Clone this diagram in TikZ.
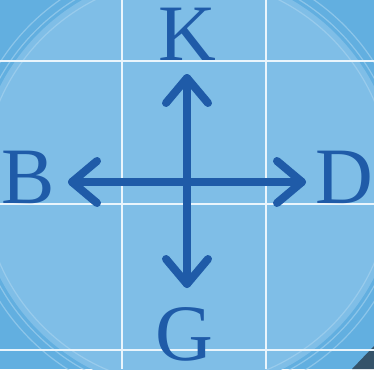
\documentclass[tikz,border=0pt]{standalone}
\usepackage{fontspec}
\setmainfont{Liberation Serif}
\definecolor{bgout}{HTML}{62AFE0}
\definecolor{bgin}{HTML}{7FBEE7}
\definecolor{ring}{HTML}{A9D4F0}
\definecolor{gridc}{HTML}{EAF5FC}
\definecolor{ink}{HTML}{1F5BA8}
\definecolor{corner}{HTML}{34536A}
\tikzset{
  gridline/.style={draw=gridc, line width=2pt},
  ringline/.style={draw=ring, line width=1.2pt, opacity=0.6},
  dirarrow/.style={draw=ink, line width=8pt, line cap=round, line join=round},
  chev/.style={draw=ink, line width=8pt, line cap=round, line join=round},
  lbl/.style={text=ink, font=\fontsize{80}{80}\selectfont, inner sep=0pt, anchor=base}
}
\begin{document}
\begin{tikzpicture}[x=1pt,y=-1pt]
\useasboundingbox (0,0) rectangle (374,369);
\fill[bgout] (0,0) rectangle (374,369);
\begin{scope}
\clip (0,0) rectangle (374,369);
\fill[bgin] (187,182) circle (210);
\draw[ringline] (187,182) circle (204);
\draw[ringline] (187,182) circle (214);
\draw[ringline] (187,182) circle (222);
\fill[corner] (352,369) -- (374,369) -- (374,346) -- cycle;
\end{scope}
% grid
\draw[gridline] (122,0) -- (122,369);
\draw[gridline] (266,0) -- (266,369);
\draw[gridline] (0,61) -- (374,61);
\draw[gridline] (0,204) -- (374,204);
\draw[gridline] (0,350) -- (374,350);
% labels
\node[lbl] (K) at (187,60) {K};
\node[lbl] (B) at (28,203) {B};
\node[lbl] (D) at (344,203) {D};
\node[lbl] (G) at (184,360) {G};
% arrow ends
\coordinate (C) at (187,182);
\coordinate (tK) at (187,78);
\coordinate (tG) at (187,284);
\coordinate (tB) at (72,182);
\coordinate (tD) at (302,182);
\draw[dirarrow] (tK) -- (tG);
\draw[dirarrow] (tB) -- (tD);
\draw[chev] ([shift={(-21,25)}]tK) -- (tK) -- ([shift={(21,25)}]tK);
\draw[chev] ([shift={(-21,-25)}]tG) -- (tG) -- ([shift={(21,-25)}]tG);
\draw[chev] ([shift={(25,-21)}]tB) -- (tB) -- ([shift={(25,21)}]tB);
\draw[chev] ([shift={(-25,-21)}]tD) -- (tD) -- ([shift={(-25,21)}]tD);
\end{tikzpicture}
\end{document}
